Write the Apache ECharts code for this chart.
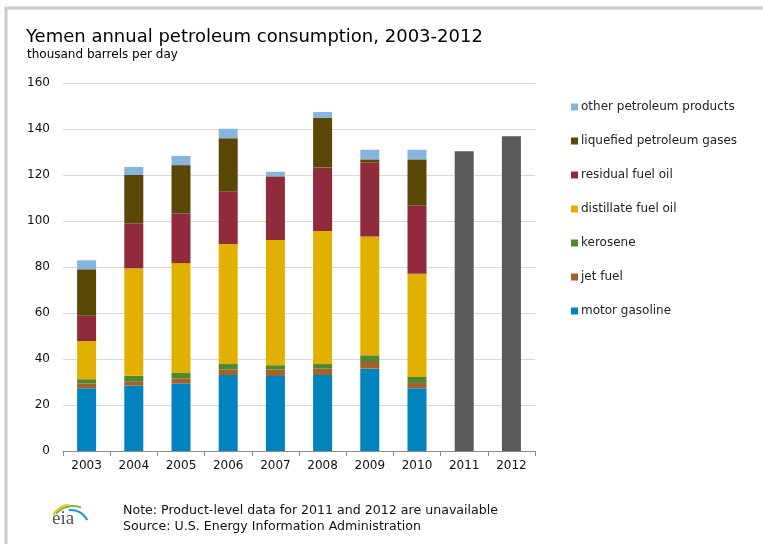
<!DOCTYPE html>
<html><head><meta charset="utf-8">
<script src="https://cdn.jsdelivr.net/npm/echarts@6/dist/echarts.min.js"></script>
<style>html,body{margin:0;padding:0;background:#fff}#c{width:763px;height:544px}</style>
</head><body><div id="c"></div>
<script>
const years = ['2003','2004','2005','2006','2007','2008','2009','2010','2011','2012'];
const motorGasoline = [27.3, 28.4, 29.3, 33.0, 32.6, 33.0, 35.8, 27.3, '-', '-'];
const jetFuel       = [2.1, 1.7, 2.3, 2.4, 2.8, 2.8, 2.9, 2.3, '-', '-'];
const kerosene      = [1.8, 2.6, 2.3, 2.4, 1.9, 2.0, 2.9, 2.6, '-', '-'];
const distillate    = [16.6, 46.7, 47.8, 52.2, 54.4, 57.9, 51.7, 44.9, '-', '-'];
const residual      = [11.0, 19.6, 21.6, 22.9, 27.4, 27.6, 32.1, 29.6, '-', '-'];
const lpg           = [20.2, 21.0, 21.0, 23.1, 0.3, 21.6, 1.4, 20.1, '-', '-'];
const otherProducts = [3.9, 3.5, 4.0, 4.1, 2.0, 2.5, 4.2, 4.2, '-', '-'];
const totalOnly     = ['-', '-', '-', '-', '-', '-', '-', '-', 130.3, 136.8];
const yTicks = [0, 20, 40, 60, 80, 100, 120, 140, 160];

const FONT = 'DejaVu Sans, Verdana, sans-serif';
const seriesDefs = [
  ['motor gasoline', motorGasoline, '#0084c0'],
  ['jet fuel', jetFuel, '#a6612b'],
  ['kerosene', kerosene, '#4e872e'],
  ['distillate fuel oil', distillate, '#e2b100'],
  ['residual fuel oil', residual, '#8f2b3a'],
  ['liquefied petroleum gases', lpg, '#5b4705'],
  ['other petroleum products', otherProducts, '#86b6e0']
];
const series = seriesDefs.map(([name, data, color]) => ({
  name, type: 'bar', stack: 'a', data, barWidth: 19,
  itemStyle: { color }
}));
series.push({ name: 'total', type: 'bar', stack: 'a', data: totalOnly, barWidth: 19, itemStyle: { color: '#595959' } });

const chart = echarts.init(document.getElementById('c'), null, { renderer: 'canvas' });
chart.setOption({
  animation: false,
  textStyle: { fontFamily: FONT },
  title: [
    { text: 'Yemen annual petroleum consumption, 2003-2012', left: 26, top: 28, padding: 0,
      textStyle: { fontSize: 18, fontWeight: 'normal', color: '#000', fontFamily: FONT } },
    { text: 'thousand barrels per day', left: 27, top: 49, padding: 0,
      textStyle: { fontSize: 12, fontWeight: 'normal', color: '#000', fontFamily: FONT } }
  ],
  grid: { left: 63, right: 228, top: 83, bottom: 93 },
  legend: {
    orient: 'vertical', left: 566, top: 95, itemWidth: 7, itemHeight: 7, itemGap: 20,
    icon: 'rect',
    data: seriesDefs.map(d => d[0]).reverse(),
    textStyle: { fontSize: 12, color: '#222', lineHeight: 14, padding: [0, 0, 0, -2], fontFamily: FONT }
  },
  xAxis: {
    type: 'category', data: years,
    axisLine: { lineStyle: { color: '#8c8c8c' } },
    axisTick: { show: true, length: 5, lineStyle: { color: '#8c8c8c' } },
    axisLabel: { color: '#111', fontSize: 12, margin: 9, fontFamily: FONT }
  },
  yAxis: {
    type: 'value', min: yTicks[0], max: yTicks[yTicks.length - 1], interval: 20,
    axisLine: { show: false }, axisTick: { show: false },
    axisLabel: { color: '#111', fontSize: 12, margin: 13, fontFamily: FONT },
    splitLine: { lineStyle: { color: '#d9d9d9', width: 1 } }
  },
  series,
  graphic: [
    { type: 'rect', shape: { x: 6, y: 8, width: 800, height: 600 }, style: { fill: 'none', stroke: '#cccccc', lineWidth: 3 }, silent: true },
    { type: 'text', left: 123, top: 503, style: { text: 'Note: Product-level data for 2011 and 2012 are unavailable\nSource: U.S. Energy Information Administration', fill: '#111', font: '12.6px DejaVu Sans, sans-serif', lineHeight: 16 } },
    { type: 'arc', shape: { cx: 73, cy: 528, r: 24, startAngle: -2.55, endAngle: -1.75 }, style: { stroke: '#f2c500', lineWidth: 2, fill: 'none' } },
    { type: 'arc', shape: { cx: 73, cy: 528, r: 22, startAngle: -2.45, endAngle: -1.2 }, style: { stroke: '#7cb342', lineWidth: 2, fill: 'none' } },
    { type: 'arc', shape: { cx: 71, cy: 528, r: 18, startAngle: -1.7, endAngle: -0.45 }, style: { stroke: '#1e9bd7', lineWidth: 2, fill: 'none' } },
    { type: 'text', left: 52, top: 510, style: { text: 'eia', fill: '#555', font: '19px Liberation Serif, serif' } }
  ]
});
</script></body></html>
